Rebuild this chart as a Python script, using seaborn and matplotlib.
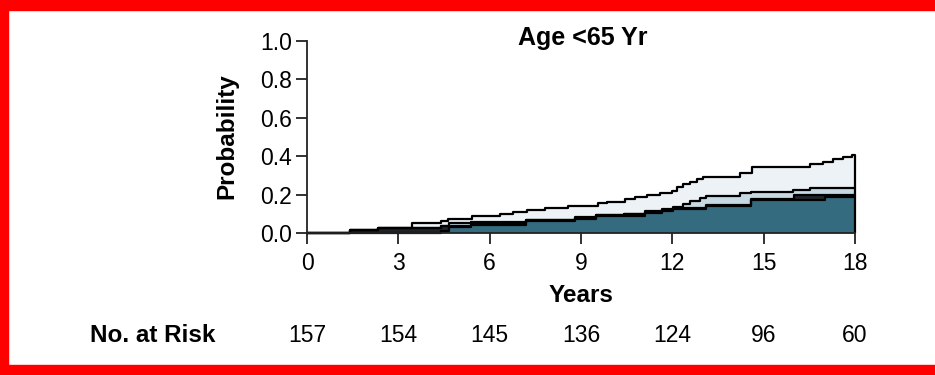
import numpy as np
import pandas as pd
import matplotlib
matplotlib.use("Agg")
import matplotlib.pyplot as plt
import seaborn as sns
from matplotlib.patches import Rectangle
import matplotlib.transforms as mtransforms

# ---------------- data ----------------
title = "Age <65 Yr"
x_label = "Years"
y_label = "Probability"
x_ticks = [0, 3, 6, 9, 12, 15, 18]
y_ticks = [0.0, 0.2, 0.4, 0.6, 0.8, 1.0]
risk_label = "No. at Risk"
risk_counts = [157, 154, 145, 136, 124, 96, 60]

# stacked cumulative curves (upper edge of each layer), step functions
teal_t = [0, 4.4, 4.65, 5.4, 7.2, 8.8, 9.5, 10.4, 11.1, 11.65, 12.03, 13.1, 14.6, 17.0, 18]
teal_v = [0, 0.012, 0.03, 0.043, 0.06, 0.072, 0.086, 0.09, 0.104, 0.117, 0.126, 0.141, 0.17, 0.186, 0.186]

dark_t = [0, 1.41, 2.34, 4.4, 5.4, 7.2, 8.8, 9.5, 10.4, 11.1, 11.65, 12.03, 13.1, 14.6, 16.0, 17.0, 18]
dark_v = [0, 0.015, 0.025, 0.035, 0.05, 0.067, 0.079, 0.092, 0.097, 0.11, 0.122, 0.131, 0.148, 0.177, 0.197, 0.2, 0.2]

light_t = [0, 1.41, 2.34, 4.4, 4.65, 5.4, 7.2, 8.8, 9.5, 10.4, 11.1, 11.65, 12.03, 12.36,
           12.58, 12.9, 13.1, 14.22, 14.6, 15.97, 16.52, 18]
light_v = [0, 0.015, 0.025, 0.035, 0.05, 0.055, 0.07, 0.082, 0.095, 0.1, 0.113, 0.125, 0.134, 0.15,
           0.165, 0.18, 0.192, 0.207, 0.216, 0.224, 0.236, 0.236]

top_t = [0, 1.41, 2.34, 3.44, 4.39, 4.64, 5.41, 6.34, 6.78, 7.22, 7.82, 8.58, 9.57, 9.85, 10.45,
         10.78, 11.16, 11.6, 11.98, 12.14, 12.36, 12.58, 12.8, 13.02, 14.22, 14.61, 16.52, 16.96,
         17.29, 17.62, 17.9, 18]
top_v = [0, 0.016, 0.026, 0.05, 0.064, 0.072, 0.086, 0.099, 0.111, 0.122, 0.132, 0.142, 0.155,
         0.164, 0.176, 0.187, 0.196, 0.207, 0.221, 0.241, 0.255, 0.267, 0.281, 0.293, 0.314,
         0.342, 0.359, 0.371, 0.383, 0.397, 0.407, 0.407]

# ---------------- style ----------------
sns.set_style("ticks")
plt.rcParams["font.family"] = ["Liberation Sans", "DejaVu Sans"]
plt.rcParams["text.color"] = "black"

col_teal = "#356b7e"
col_dark = "#1f2528"
col_light = "#c6d8e2"
col_top = "#edf2f7"
col_axis = "#222222"

fig = plt.figure(figsize=(9.35, 3.75), dpi=100)
ax = fig.add_axes([307 / 935, 142 / 375, 548 / 935, 192 / 375])


def step_eval(ts, vs, grid):
    ts = np.asarray(ts, float)
    vs = np.asarray(vs, float)
    idx = np.searchsorted(ts, grid, side="right") - 1
    return vs[np.clip(idx, 0, len(vs) - 1)]


grid = np.unique(np.concatenate([teal_t, dark_t, light_t, top_t]))
c1 = step_eval(teal_t, teal_v, grid)
c2 = np.maximum(step_eval(dark_t, dark_v, grid), c1)
c3 = np.maximum(step_eval(light_t, light_v, grid), c2)
c4 = np.maximum(step_eval(top_t, top_v, grid), c3)

ax.fill_between(grid, 0, c1, step="post", color=col_teal, lw=0, zorder=1)
ax.fill_between(grid, c1, c2, step="post", color=col_dark, lw=0, zorder=1)
ax.fill_between(grid, c2, c3, step="post", color=col_light, lw=0, zorder=1)
ax.fill_between(grid, c3, c4, step="post", color=col_top, lw=0, zorder=1)

for curve in [c1, c2, c3, c4]:
    df = pd.DataFrame({"t": grid, "v": curve})
    sns.lineplot(data=df, x="t", y="v", ax=ax, drawstyle="steps-post", color="black",
                 lw=1.6, estimator=None, sort=False, zorder=3, clip_on=False)

ax.vlines(grid[-1], 0, c4[-1], color="black", lw=1.6, zorder=3, clip_on=False)

ax.set_xlim(0, 18)
ax.set_ylim(0, 1)
ax.set_xticks(x_ticks)
ax.set_xticklabels([str(v) for v in x_ticks])
ax.set_yticks(y_ticks)
ax.set_yticklabels([f"{v:.1f}" for v in y_ticks])
ax.set_xlabel("")
ax.set_ylabel("")

for s in ["top", "right"]:
    ax.spines[s].set_visible(False)
for s in ["left", "bottom"]:
    ax.spines[s].set_color(col_axis)
    ax.spines[s].set_linewidth(1.3)
    ax.spines[s].set_zorder(4)

ax.tick_params(axis="both", colors=col_axis, width=1.3, length=8, labelsize=16.5,
               labelcolor="black")
ax.tick_params(axis="x", pad=6)
ax.tick_params(axis="y", pad=3)

# texts
fig.text(583 / 935, 1 - 38 / 375, title, ha="center", va="center", fontsize=18,
         fontweight="bold", color="black")
fig.text(581 / 935, 1 - 295 / 375, x_label, ha="center", va="center", fontsize=17.5,
         fontweight="bold", color="black")
fig.text(227 / 935, 1 - 136 / 375, y_label, ha="center", va="center", rotation=90,
         fontsize=17.5, fontweight="bold", color="black")
fig.text(90 / 935, 1 - 335 / 375, risk_label, ha="left", va="center", fontsize=17.5,
         fontweight="bold", color="black")
trans = mtransforms.blended_transform_factory(ax.transData, fig.transFigure)
for xt, n in zip(x_ticks, risk_counts):
    ax.text(xt, 1 - 335 / 375, str(n), transform=trans, ha="center", va="center",
            fontsize=16.5, color="black", clip_on=False)

# red frame
red = "#ff0000"
fig.patches.append(Rectangle((0, 1 - 10 / 375), 1, 10 / 375, transform=fig.transFigure,
                             color=red, zorder=10))
fig.patches.append(Rectangle((0, 0), 1, 10 / 375, transform=fig.transFigure,
                             color=red, zorder=10))
fig.patches.append(Rectangle((0, 0), 8 / 935, 1, transform=fig.transFigure,
                             color=red, zorder=10))

fig.savefig("out.png", dpi=100)
